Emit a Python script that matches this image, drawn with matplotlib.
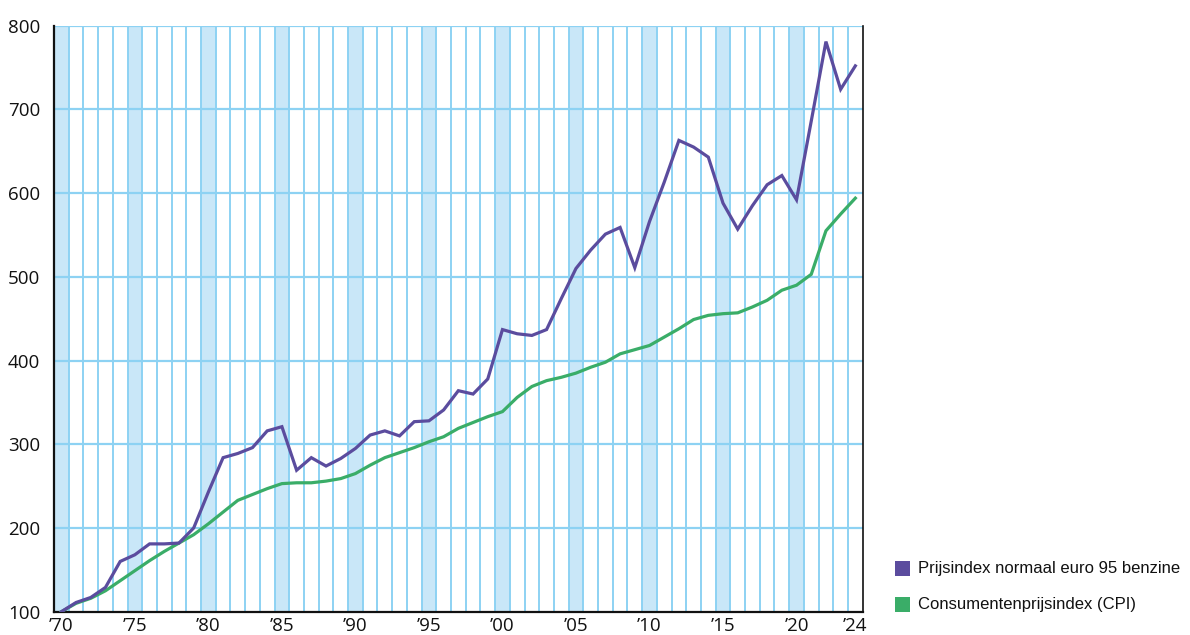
import matplotlib
matplotlib.use('Agg')
import matplotlib.pyplot as plt
from matplotlib.patches import Rectangle

# jaren 1970 t/m 2024
years = list(range(1970, 2025))

benzine = [100, 111, 117, 129, 160, 168, 181, 181, 182, 200,
           243, 284, 289, 296, 316, 321, 269, 284, 274, 283,
           295, 311, 316, 310, 327, 328, 341, 364, 360, 378,
           437, 432, 430, 437, 474, 510, 532, 551, 559, 511,
           566, 613, 663, 655, 643, 588, 557, 585, 610, 621,
           592, 686, 781, 724, 752]

cpi = [100, 110, 116, 125, 137, 149, 161, 172, 182, 192,
       205, 219, 233, 240, 247, 253, 254, 254, 256, 259,
       265, 275, 284, 290, 296, 303, 309, 319, 326, 333,
       339, 356, 369, 376, 380, 385, 392, 398, 408, 413,
       418, 428, 438, 449, 454, 456, 457, 464, 472, 484,
       490, 503, 555, 575, 594]

shaded_years = [1970, 1975, 1980, 1985, 1990, 1995, 2000, 2005, 2010, 2015, 2020]
tick_years = [1970, 1975, 1980, 1985, 1990, 1995, 2000, 2005, 2010, 2015, 2020, 2024]
tick_labels = ['\u201970', '\u201975', '\u201980', '\u201985', '\u201990', '\u201995',
               '\u201900', '\u201905', '\u201910', '\u201915', '\u201920', '\u201924']
y_ticks = [100, 200, 300, 400, 500, 600, 700, 800]

series_labels = ['Prijsindex normaal euro 95 benzine', 'Consumentenprijsindex (CPI)']
purple = '#5b4c9e'
green = '#3aad68'
grid_blue = '#8dd2f3'
shade_blue = '#c9e7f8'

plt.rcParams['font.family'] = ['Open Sans', 'DejaVu Sans']

W, H = 1190, 635
fig = plt.figure(figsize=(W / 100, H / 100), dpi=100)
ax = fig.add_axes([54 / W, 1 - 611.7 / H, (862.7 - 54) / W, (611.7 - 25.7) / H])

ax.set_xlim(1969.5, 2024.5)
ax.set_ylim(100, 800)

for y in shaded_years:
    ax.axvspan(y - 0.5, y + 0.5, color=shade_blue, lw=0, zorder=0)
for y in years[1:]:
    ax.axvline(y - 0.5, color=grid_blue, lw=1.4, zorder=1)
for v in y_ticks[1:]:
    ax.axhline(v, color=grid_blue, lw=1.6, zorder=1)

ax.plot(years, cpi, color=green, lw=2.3, zorder=3, solid_joinstyle='miter')
ax.plot(years, benzine, color=purple, lw=2.3, zorder=4, solid_joinstyle='miter')

ax.set_xticks(tick_years)
ax.set_xticklabels(tick_labels)
ax.set_yticks(y_ticks)
ax.tick_params(length=0, labelsize=13.5, colors='#111111')
ax.tick_params(axis='y', pad=10)
ax.tick_params(axis='x', pad=4)

for side in ['left', 'bottom']:
    ax.spines[side].set_linewidth(1.6)
    ax.spines[side].set_color('#111111')
ax.spines['right'].set_linewidth(1.2)
ax.spines['right'].set_color('#111111')
ax.spines['top'].set_visible(False)

# legenda rechtsonder
leg_font = ['Liberation Sans Narrow', 'Liberation Sans', 'DejaVu Sans']
for i, (lab, col) in enumerate(zip(series_labels, [purple, green])):
    y_top = 560.5 + i * 36.5
    fig.add_artist(Rectangle((895 / W, 1 - (y_top + 15) / H), 15 / W, 15 / H,
                             transform=fig.transFigure, color=col, lw=0))
    fig.text(918 / W, 1 - (y_top + 7.5) / H, lab, fontsize=12, family=leg_font,
             va='center', ha='left', color='#111111')

fig.savefig('out.png', dpi=100)
